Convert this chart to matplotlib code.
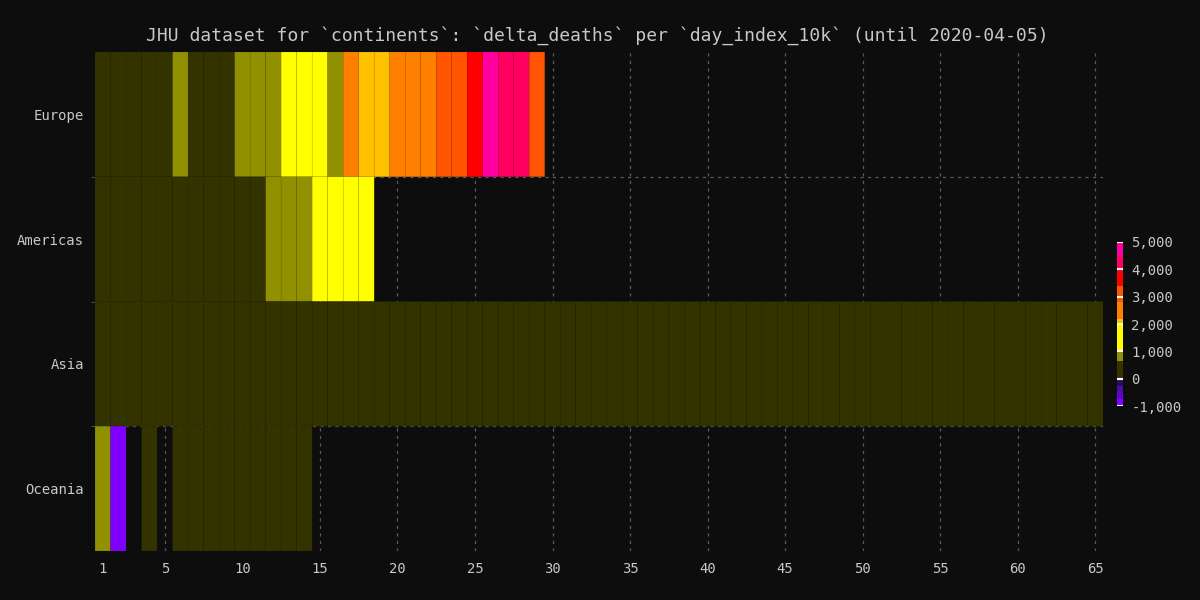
import numpy as np
import matplotlib
matplotlib.use("Agg")
import matplotlib.pyplot as plt
from matplotlib.colors import ListedColormap, BoundaryNorm
from matplotlib.ticker import FuncFormatter

# data (delta_deaths per day_index_10k)
continents = ["Europe", "Americas", "Asia", "Oceania"]

europe = [30, 50, 90, 150, 200, 700, 350, 400, 550, 800, 850, 900, 1200, 1500,
          1800, 950, 2500, 2100, 2150, 2600, 2700, 2650, 3000, 3200, 3700, 4700,
          4200, 4300, 3100]
americas = [10, 20, 30, 50, 80, 100, 150, 200, 300, 400, 500, 700, 800, 950,
            1100, 1300, 1600, 1800]
asia = [45, 46, 57, 64, 65, 73, 73, 86, 89, 97, 108, 97, 254, 121, 143, 142,
        105, 98, 136, 114, 118, 109, 97, 150, 71, 52, 29, 44, 47, 35, 42, 31,
        38, 31, 30, 28, 27, 22, 17, 22, 11, 7, 14, 10, 14, 13, 11, 8, 12, 17,
        19, 25, 28, 30, 36, 41, 44, 52, 60, 66, 71, 80, 88, 95, 102]
oceania = [700, -900, None, 5, None, 3, 4, 6, 8, 10, 12, 15, 18, 20]

color_bounds = [-1000, -750, -500, -250, 0, 650, 1000, 2000, 2200, 2800, 3400,
                4000, 4450, 5000]
color_list = ["#7f00ff", "#6200dc", "#4a0ea8", "#2c0c5a", "#333300", "#909000",
              "#ffff00", "#ffc000", "#ff8000", "#ff5500", "#ff0000", "#ff0060",
              "#ff00a0"]
cbar_ticks = [-1000, 0, 1000, 2000, 3000, 4000, 5000]
x_ticks = [1, 5, 10, 15, 20, 25, 30, 35, 40, 45, 50, 55, 60, 65]

BG = "#0d0d0d"
FG = "#c8c8c8"
GRID = "#5a5a5a"
plt.rcParams["font.family"] = ["DejaVu Sans Mono", "DejaVu Sans"]

n_days = max(len(europe), len(americas), len(asia), len(oceania))
grid = np.full((len(continents), n_days), np.nan)
for i, row in enumerate([europe, americas, asia, oceania]):
    for j, v in enumerate(row):
        if v is not None:
            grid[i, j] = v
grid = np.ma.masked_invalid(grid)

cmap = ListedColormap(color_list)
norm = BoundaryNorm(color_bounds, cmap.N)

fig = plt.figure(figsize=(12, 6), dpi=100, facecolor=BG)
ax = fig.add_axes([0.0792, 0.0817, 0.84, 0.8316], facecolor=BG)

x_edges = np.arange(n_days + 1) + 0.5
y_edges = np.arange(len(continents) + 1)
# pcolor skips masked cells entirely, so empty days keep no edges
mesh = ax.pcolor(x_edges, y_edges, grid, cmap=cmap, norm=norm,
                 edgecolors=(0, 0, 0, 0.05), linewidth=0.4, zorder=2)

ax.set_xlim(0.5, n_days + 0.5)
ax.set_ylim(len(continents), 0)
ax.set_xticks(x_ticks)
ax.set_yticks(np.arange(len(continents)) + 0.5)
ax.set_yticklabels(continents)
ax.set_yticks([1, 2, 3], minor=True)
ax.tick_params(axis="both", which="major", length=0, colors=FG, labelsize=10,
               pad=8)
ax.tick_params(axis="y", which="minor", length=3, color=GRID)
ax.grid(True, axis="x", which="major", color=GRID, linestyle=(0, (2.5, 3.5)),
        linewidth=0.9, zorder=0)
ax.grid(True, axis="y", which="minor", color=GRID, linestyle=(0, (2.5, 3.5)),
        linewidth=0.9, zorder=0)
ax.set_axisbelow(True)
for s in ax.spines.values():
    s.set_visible(False)

fig.text(0.498, 0.94,
         "JHU dataset for `continents`: `delta_deaths` per `day_index_10k` (until 2020-04-05)",
         ha="center", va="center", color=FG, fontsize=13)

cax = fig.add_axes([0.9308, 0.3233, 0.005, 0.2734])
cbar = fig.colorbar(mesh, cax=cax, spacing="proportional", ticks=cbar_ticks)
cbar.outline.set_visible(False)
cbar.ax.tick_params(length=0, colors=FG, labelsize=10, pad=6)
cbar.ax.yaxis.set_major_formatter(FuncFormatter(lambda v, p: f"{int(v):,}"))
for t in cbar_ticks:
    cbar.ax.axhline(t, color="white", linewidth=1.5)

fig.savefig("out.png", dpi=100, facecolor=BG)
